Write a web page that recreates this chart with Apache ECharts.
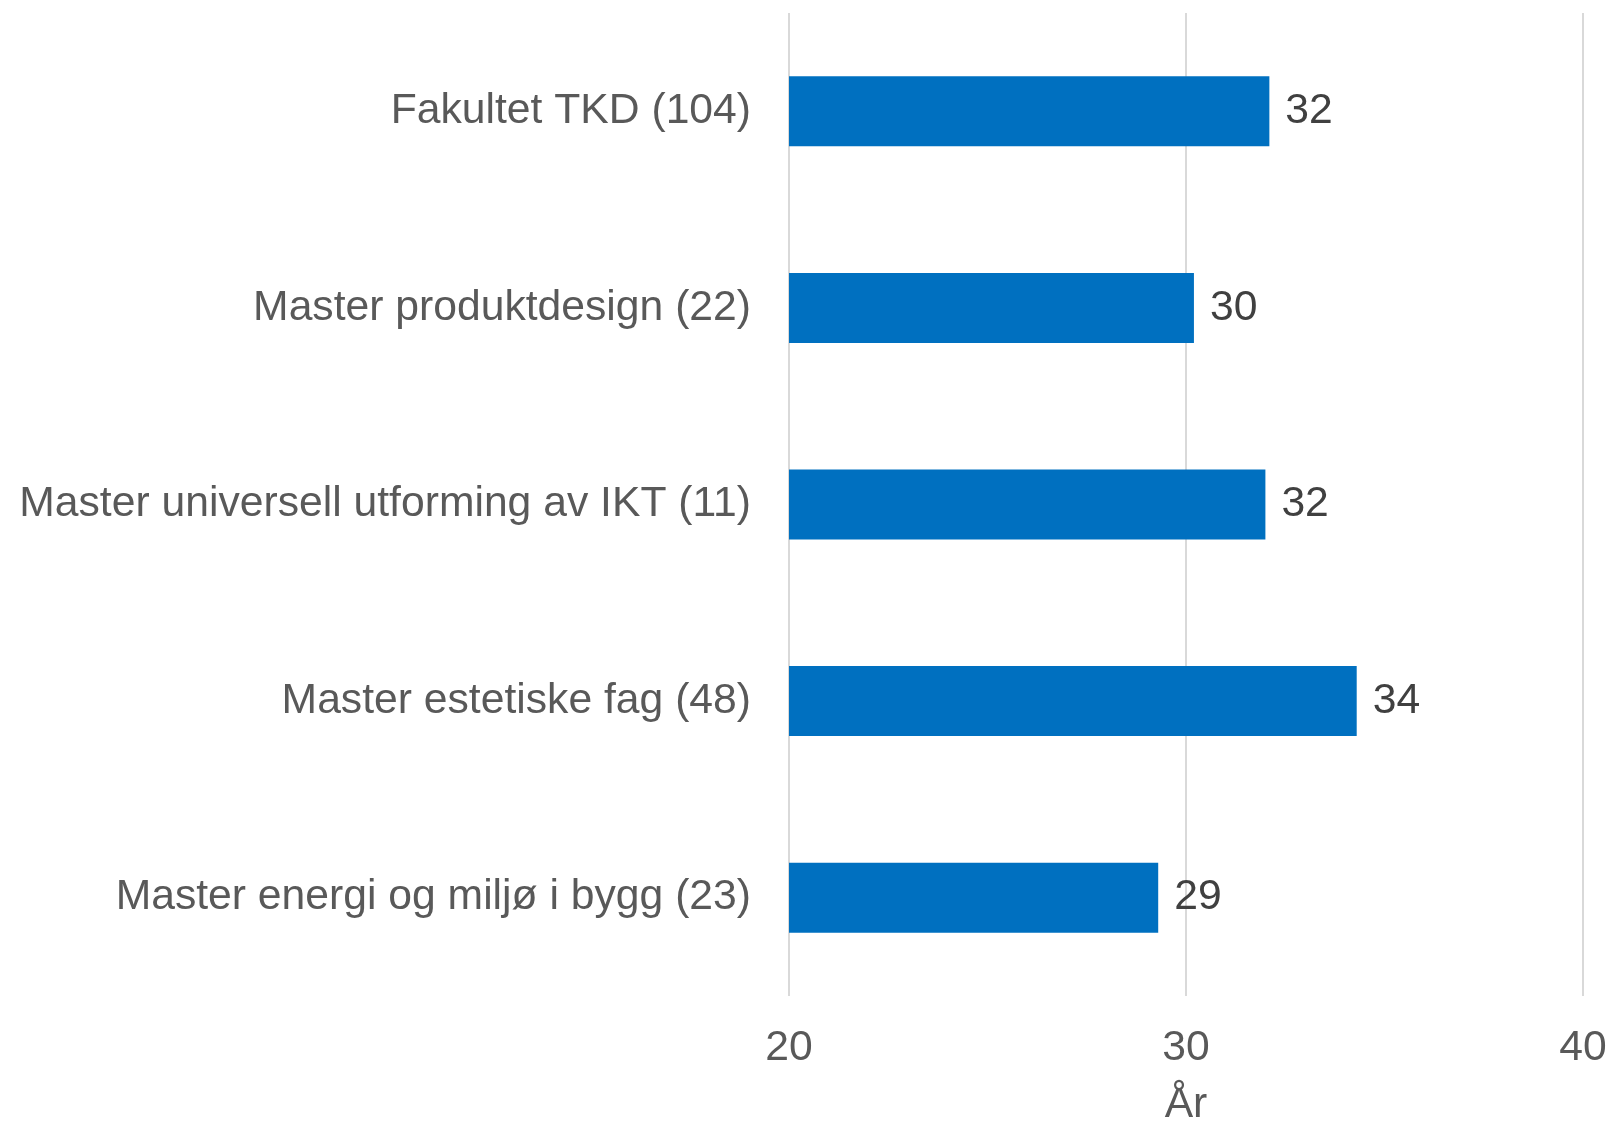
<!DOCTYPE html>
<html>
<head>
<meta charset="utf-8">
<script src="https://cdn.jsdelivr.net/npm/echarts@6/dist/echarts.min.js"></script>
<style>
html,body{margin:0;padding:0;background:#fff;}
#chart{width:1611px;height:1123px;}
</style>
</head>
<body>
<div id="chart"></div>
<script>
const categories = [
  "Fakultet TKD (104)",
  "Master produktdesign (22)",
  "Master universell utforming av IKT (11)",
  "Master estetiske fag (48)",
  "Master energi og miljø i bygg (23)"
];
const values = [32.1, 30.2, 32.0, 34.3, 29.3];
const xTicks = [20, 30, 40];
const axisTitle = "År";

const FS = 42.67;
const chart = echarts.init(document.getElementById('chart'));
chart.setOption({
  animation: false,
  grid: {left: 789, right: 28, top: 13, bottom: 127, containLabel: false, outerBoundsMode: 'none'},
  xAxis: {
    type: 'value',
    min: xTicks[0], max: xTicks[xTicks.length - 1], interval: 10,
    name: axisTitle,
    nameLocation: 'middle',
    nameGap: 88,
    nameTextStyle: {fontFamily: 'Liberation Sans', fontSize: FS, color: '#595959'},
    axisLine: {show: false},
    axisTick: {show: false},
    axisLabel: {fontFamily: 'Liberation Sans', fontSize: FS, color: '#595959', margin: 31},
    splitLine: {show: true, lineStyle: {color: '#d9d9d9', width: 2}}
  },
  yAxis: {
    type: 'category',
    data: categories,
    inverse: true,
    axisLine: {show: false},
    axisTick: {show: false},
    axisLabel: {fontFamily: 'Liberation Sans', fontSize: FS, color: '#595959', margin: 38}
  },
  series: [{
    type: 'bar',
    data: values,
    barWidth: 70,
    itemStyle: {color: '#0070C0'},
    label: {
      show: true,
      position: 'right',
      distance: 16,
      fontFamily: 'Liberation Sans',
      fontSize: FS,
      color: '#404040',
      formatter: p => Math.round(p.value)
    }
  }]
});
</script>
</body>
</html>
